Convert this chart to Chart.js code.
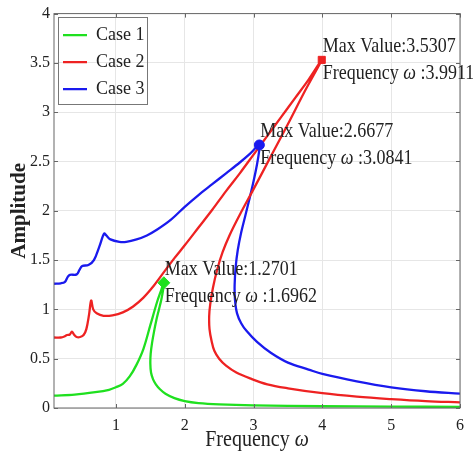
<!DOCTYPE html>
<html>
<head>
<meta charset="utf-8">
<script src="https://cdn.jsdelivr.net/npm/chart.js@4/dist/chart.umd.min.js"></script>
<style>
  html, body { margin: 0; padding: 0; background: #fff; }
  #wrap { width: 473px; height: 460px; }
</style>
</head>
<body>
<div id="wrap"><canvas id="myChart"></canvas></div>
<script>
// values
const caseNames = ['Case 1', 'Case 2', 'Case 3'];

const case1X = [0.1, 0.4, 0.7, 0.9, 1.0, 1.1, 1.2, 1.3, 1.4, 1.5, 1.6, 1.65, 1.6962,
  1.69, 1.66, 1.625, 1.59, 1.555, 1.525, 1.505, 1.5, 1.51, 1.54, 1.58, 1.64, 1.72, 1.85, 2.0, 2.2, 2.5, 3.0, 4.0, 5.0, 6.0];
const case1Y = [0.125, 0.135, 0.16, 0.185, 0.21, 0.245, 0.32, 0.44, 0.6, 0.84, 1.08, 1.18, 1.2701,
  1.22, 1.1, 1.0, 0.9, 0.78, 0.66, 0.55, 0.45, 0.36, 0.29, 0.24, 0.19, 0.145, 0.1, 0.07, 0.05, 0.037, 0.027, 0.018, 0.014, 0.012];

const case2X = [0.1, 0.2, 0.25, 0.29, 0.33, 0.36, 0.39, 0.43, 0.48, 0.53, 0.57, 0.61, 0.64, 0.67, 0.72, 0.82, 0.95, 1.1, 1.25,
  1.4, 1.55, 1.7, 1.85, 2.0, 2.2, 2.4, 2.6, 2.8, 3.0, 3.2, 3.4, 3.6, 3.8, 3.9911,
  3.75, 3.5, 3.25, 3.0, 2.8, 2.65, 2.55, 2.47, 2.41, 2.37, 2.355, 2.36, 2.39, 2.43, 2.5, 2.6, 2.75, 2.95, 3.2, 3.5, 4.0, 4.5, 5.0, 5.5, 6.0];
const case2Y = [0.715, 0.715, 0.725, 0.74, 0.745, 0.775, 0.745, 0.72, 0.72, 0.74, 0.8, 0.95, 1.09, 1.0, 0.96, 0.935, 0.94, 0.97, 1.03,
  1.12, 1.24, 1.38, 1.52, 1.65, 1.83, 2.01, 2.2, 2.38, 2.57, 2.76, 2.95, 3.14, 3.33, 3.5307,
  3.22, 2.88, 2.55, 2.22, 1.96, 1.75, 1.58, 1.4, 1.22, 1.05, 0.93, 0.8, 0.68, 0.58, 0.5, 0.43, 0.36, 0.3, 0.24, 0.2, 0.15, 0.115, 0.09, 0.07, 0.057];

const case3X = [0.1, 0.2, 0.26, 0.3, 0.33, 0.43, 0.47, 0.51, 0.6, 0.68, 0.76, 0.83, 0.86, 0.92, 1.05, 1.15, 1.3, 1.45, 1.6,
  1.8, 2.0, 2.2, 2.4, 2.6, 2.8, 2.95, 3.0841,
  3.08, 3.05, 3.0, 2.94, 2.88, 2.82, 2.77, 2.74, 2.725, 2.73, 2.76, 2.82, 2.9, 3.05, 3.25, 3.5, 3.8, 4.0, 4.5, 5.0, 5.5, 6.0];
const case3Y = [1.26, 1.265, 1.28, 1.33, 1.35, 1.355, 1.4, 1.44, 1.45, 1.5, 1.64, 1.77, 1.75, 1.71, 1.685, 1.685, 1.71, 1.75, 1.81,
  1.91, 2.04, 2.16, 2.27, 2.38, 2.49, 2.58, 2.6677,
  2.6, 2.47, 2.3, 2.12, 1.95, 1.78, 1.6, 1.43, 1.25, 1.1, 0.96, 0.86, 0.78, 0.67, 0.56, 0.46, 0.39, 0.345, 0.27, 0.21, 0.17, 0.145];

const peakX = [1.6962, 3.9911, 3.0841];
const peakY = [1.2701, 3.5307, 2.6677];

const xTicks = [1, 2, 3, 4, 5, 6];
const yTicks = [0, 0.5, 1, 1.5, 2, 2.5, 3, 3.5, 4];

const colors = ['#1fe01f', '#ee2222', '#1a1aee'];
const markerStyles = ['rectRot', 'rect', 'circle'];
const serif = "'Liberation Serif', 'DejaVu Serif', serif";

function pts(xs, ys) {
  return xs.map((x, i) => ({x: x, y: ys[i]}));
}

let curveX = [case1X, case2X, case3X];
let curveY = [case1Y, case2Y, case3Y];

let datasets = [];
// peak markers first so they end up on top
for (let i = 0; i < 3; i++) {
  datasets.push({
    label: '',
    data: [{x: peakX[i], y: peakY[i]}],
    showLine: false,
    pointStyle: markerStyles[i],
    pointRadius: i == 0 ? 6 : 5,
    backgroundColor: colors[i],
    borderColor: colors[i],
    borderWidth: 1
  });
}
for (let i = 0; i < 3; i++) {
  datasets.push({
    label: caseNames[i],
    data: pts(curveX[i], curveY[i]),
    showLine: true,
    borderColor: colors[i],
    backgroundColor: colors[i],
    borderWidth: 2.3,
    pointRadius: 0,
    tension: 0.35
  });
}

// box, inner ticks, legend frame, peak notes, x title
const extras = {
  id: 'extras',
  afterDraw(chart) {
    const ctx = chart.ctx;
    const a = chart.chartArea;
    const x = chart.scales.x, y = chart.scales.y;
    ctx.save();

    ctx.strokeStyle = '#666';
    ctx.lineWidth = 1;
    ctx.strokeRect(a.left, a.top, a.right - a.left, a.bottom - a.top);
    ctx.beginPath();
    xTicks.forEach(v => {
      const px = Math.round(x.getPixelForValue(v)) + 0.5;
      ctx.moveTo(px, a.bottom); ctx.lineTo(px, a.bottom - 4);
      ctx.moveTo(px, a.top); ctx.lineTo(px, a.top + 4);
    });
    yTicks.forEach(v => {
      const py = Math.round(y.getPixelForValue(v)) + 0.5;
      ctx.moveTo(a.left, py); ctx.lineTo(a.left + 4, py);
      ctx.moveTo(a.right, py); ctx.lineTo(a.right - 4, py);
    });
    ctx.stroke();

    // legend frame
    const boxes = chart.legend.legendHitBoxes;
    if (boxes && boxes.length) {
      let l = Infinity, t = Infinity, r = -Infinity, b = -Infinity;
      boxes.forEach(h => {
        l = Math.min(l, h.left); t = Math.min(t, h.top);
        r = Math.max(r, h.left + h.width); b = Math.max(b, h.top + h.height);
      });
      ctx.strokeStyle = '#777';
      ctx.strokeRect(Math.round(l - 5) + 0.5, Math.round(t - 9) + 0.5, Math.round(r - l + 8), Math.round(b - t + 15));
    }

    // peak notes
    ctx.fillStyle = '#222';
    ctx.textBaseline = 'middle';
    ctx.textAlign = 'left';
    for (let i = 0; i < 3; i++) {
      const px = x.getPixelForValue(peakX[i]) + 1;
      const py = y.getPixelForValue(peakY[i]);
      ctx.save();
      ctx.translate(px, py - 13);
      ctx.scale(1, 1.15);
      ctx.font = '18px ' + serif;
      ctx.fillText('Max Value:' + peakY[i].toFixed(4), 0, 0);
      ctx.restore();

      ctx.save();
      ctx.translate(px, py + 14);
      ctx.scale(1, 1.15);
      let cx = 0;
      ctx.font = '18px ' + serif;
      ctx.fillText('Frequency ', cx, 0);
      cx += ctx.measureText('Frequency ').width;
      ctx.font = 'italic 18px ' + serif;
      ctx.fillText('\u03c9', cx, 0);
      cx += ctx.measureText('\u03c9').width;
      ctx.font = '18px ' + serif;
      ctx.fillText(' :' + peakX[i].toFixed(4), cx, 0);
      ctx.restore();
    }

    // x axis title, omega in italic
    ctx.save();
    ctx.font = '20px ' + serif;
    const w1 = ctx.measureText('Frequency ').width;
    ctx.font = 'italic 20px ' + serif;
    const w2 = ctx.measureText('\u03c9').width;
    const sx = (a.left + a.right) / 2 - (w1 + w2) / 2;
    ctx.translate(sx, 440);
    ctx.scale(1, 1.15);
    ctx.font = '20px ' + serif;
    ctx.fillText('Frequency ', 0, 0);
    ctx.font = 'italic 20px ' + serif;
    ctx.fillText('\u03c9', w1, 0);
    ctx.restore();

    ctx.restore();
  }
};

const ctx = document.getElementById('myChart').getContext('2d');
let myChart = new Chart(ctx, {
  type: 'scatter',
  data: { datasets: datasets },
  options: {
    responsive: true,
    maintainAspectRatio: false,
    animation: false,
    layout: { padding: { top: 13, right: 13, left: 0, bottom: 0 } },
    plugins: {
      tooltip: { enabled: false },
      legend: {
        position: 'chartArea',
        align: 'start',
        // empty title only pushes the entries down inside the plot box
        title: { display: true, text: '', font: { size: 1 }, padding: { top: 16, bottom: 0 } },
        labels: {
          usePointStyle: true,
          pointStyle: 'line',
          pointStyleWidth: 24,
          padding: 9,
          color: '#222',
          font: { family: serif, size: 18 },
          filter: item => caseNames.includes(item.text)
        }
      }
    },
    scales: {
      x: {
        type: 'linear',
        min: 0.1,
        max: 6,
        afterBuildTicks: s => { s.ticks = xTicks.map(v => ({value: v})); },
        afterFit: s => { s.height = 52; },
        grid: { color: '#e6e6e6', drawTicks: false },
        border: { display: false },
        ticks: { padding: 8, color: '#222', font: { family: serif, size: 16 }, callback: v => String(v) }
      },
      y: {
        type: 'linear',
        min: 0,
        max: 4,
        afterBuildTicks: s => { s.ticks = yTicks.map(v => ({value: v})); },
        afterFit: s => { s.width = 54; },
        grid: { color: '#e6e6e6', drawTicks: false },
        border: { display: false },
        ticks: { padding: 4, color: '#222', font: { family: serif, size: 16 }, callback: v => String(v) },
        title: {
          display: true,
          text: 'Amplitude',
          color: '#222',
          font: { family: serif, size: 21, weight: 'bold' },
          padding: { top: 7, bottom: 0 }
        }
      }
    }
  },
  plugins: [extras]
});
</script>
</body>
</html>
